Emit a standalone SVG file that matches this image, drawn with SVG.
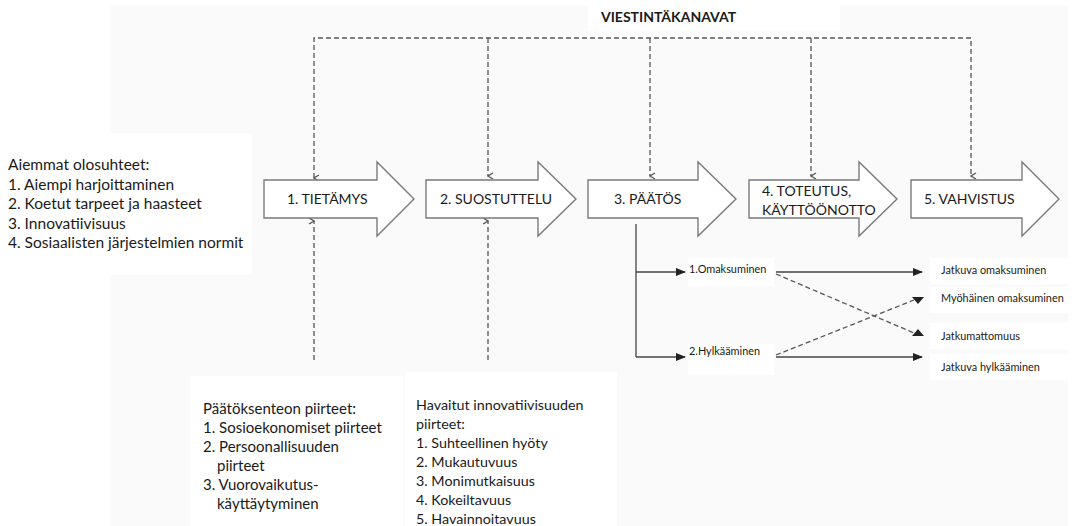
<svg xmlns="http://www.w3.org/2000/svg" width="1074" height="526" viewBox="0 0 1074 526">
<defs>
<style>
text{font-family:Lato,"Open Sans","Liberation Sans",sans-serif;fill:#1a1a1a}
.t{font-size:14px}
.a{font-size:15.5px}
.b{font-size:15px}
.c{font-size:14.3px}
.s{font-size:10.9px}
.arrow{fill:#fff;stroke:#7a7a7a;stroke-width:1.4;stroke-linejoin:miter}
.dash{fill:none;stroke:#555;stroke-width:1.3;stroke-dasharray:5 3}
.solid{fill:none;stroke:#444;stroke-width:1.3}
.wb{fill:#fff}
</style>
<marker id="dn" markerWidth="8" markerHeight="8" refX="4" refY="7" orient="auto-start-reverse" markerUnits="userSpaceOnUse" viewBox="0 0 8 8">
<path d="M1,2 L4,7 L7,2" fill="none" stroke="#555" stroke-width="1.3"/>
</marker>
<marker id="tri" markerWidth="10" markerHeight="8" refX="9" refY="4" orient="auto" markerUnits="userSpaceOnUse" viewBox="0 0 10 8">
<path d="M0,0 L10,4 L0,8 Z" fill="#222"/>
</marker>
</defs>
<rect width="1074" height="526" fill="#fff"/>
<rect x="110" y="5" width="958" height="521" fill="#fafafa"/>
<rect class="wb" x="0" y="133" width="252" height="142"/>
<rect class="wb" x="588" y="5" width="252" height="26"/>
<rect class="wb" x="190" y="376" width="213" height="150"/>
<rect class="wb" x="405" y="372" width="212" height="154"/>
<rect class="wb" x="688" y="258" width="86" height="28"/>
<rect class="wb" x="688" y="344" width="86" height="31"/>
<rect class="wb" x="930" y="258" width="140" height="26"/>
<rect class="wb" x="930" y="287" width="140" height="26"/>
<rect class="wb" x="930" y="323" width="140" height="26"/>
<rect class="wb" x="930" y="354" width="140" height="26"/>

<g id="title"><text x="601" y="22" style="font-size:14px;font-weight:bold">VIESTINTÄKANAVAT</text></g>

<g id="connectors">
<path class="dash" d="M314,178 V38 H971 V176" marker-start="url(#dn)" marker-end="url(#dn)"/>
<path class="dash" d="M488,38 V176" marker-end="url(#dn)"/>
<path class="dash" d="M650,38 V176" marker-end="url(#dn)"/>
<path class="dash" d="M811,38 V176" marker-end="url(#dn)"/>
<path class="dash" d="M314,360 V221" marker-end="url(#dn)"/>
<path class="dash" d="M488,360 V221" marker-end="url(#dn)"/>
<path class="solid" d="M636,224 V357"/>
<path class="solid" d="M636,272 H685" marker-end="url(#tri)"/>
<path class="solid" d="M636,357 H685" marker-end="url(#tri)"/>
<path class="solid" d="M776,272 H922" marker-end="url(#tri)"/>
<path class="solid" d="M776,357 H922" marker-end="url(#tri)"/>
<path class="dash" d="M776,274 L914,333"/>
<path class="dash" d="M776,355 L914,300"/>
<path d="M912,297 L924,297 L918,304 Z" fill="#222"/>
<path d="M912,336 L924,336 L918,329 Z" fill="#222"/>
</g>

<g id="left-conditions">
<text class="a" x="8" y="170">Aiemmat olosuhteet:</text>
<text class="a" x="8" y="190">1. Aiempi harjoittaminen</text>
<text class="a" x="8" y="209">2. Koetut tarpeet ja haasteet</text>
<text class="a" x="8" y="229">3. Innovatiivisuus</text>
<text class="a" x="8" y="248">4. Sosiaalisten järjestelmien normit</text>
</g>

<g id="n1"><path class="arrow" d="M264,180 H377 V162 L414,199 L377,236 V218 H264 Z"/><text class="t" x="287" y="204">1. TIETÄMYS</text></g>
<g id="n2"><path class="arrow" d="M426,180 H538 V162 L576,199 L538,236 V218 H426 Z"/><text class="t" x="440" y="204">2. SUOSTUTTELU</text></g>
<g id="n3"><path class="arrow" d="M588,180 H698 V162 L736,199 L698,236 V218 H588 Z"/><text class="t" x="614" y="204">3. PÄÄTÖS</text></g>
<g id="n4"><path class="arrow" d="M749,180 H859 V162 L897,199 L859,236 V218 H749 Z"/><text class="t" x="762" y="196">4. TOTEUTUS,</text><text class="t" x="762" y="215">KÄYTTÖÖNOTTO</text></g>
<g id="n5"><path class="arrow" d="M911,180 H1022 V162 L1059,199 L1022,236 V218 H911 Z"/><text class="t" x="924" y="204">5. VAHVISTUS</text></g>

<g id="b1"><text class="s" x="689" y="273">1.Omaksuminen</text></g>
<g id="b2"><text class="s" x="689" y="355">2.Hylkääminen</text></g>
<g id="r1"><text class="s" x="941" y="274">Jatkuva omaksuminen</text></g>
<g id="r2"><text class="s" x="941" y="302">Myöhäinen omaksuminen</text></g>
<g id="r3"><text class="s" x="941" y="340">Jatkumattomuus</text></g>
<g id="r4"><text class="s" x="941" y="371">Jatkuva hylkääminen</text></g>

<g id="decision-traits">
<text class="b" x="203" y="414">Päätöksenteon piirteet:</text>
<text class="b" x="203" y="433">1. Sosioekonomiset piirteet</text>
<text class="b" x="203" y="452">2. Persoonallisuuden</text>
<text class="b" x="217" y="471">piirteet</text>
<text class="b" x="203" y="490">3. Vuorovaikutus-</text>
<text class="b" x="217" y="509">käyttäytyminen</text>
</g>
<g id="innovation-traits">
<text class="c" x="416" y="410">Havaitut innovatiivisuuden</text>
<text class="c" x="416" y="429">piirteet:</text>
<text class="c" x="416" y="448">1. Suhteellinen hyöty</text>
<text class="c" x="416" y="467">2. Mukautuvuus</text>
<text class="c" x="416" y="486">3. Monimutkaisuus</text>
<text class="c" x="416" y="505">4. Kokeiltavuus</text>
<text class="c" x="416" y="524">5. Havainnoitavuus</text>
</g>
</svg>
